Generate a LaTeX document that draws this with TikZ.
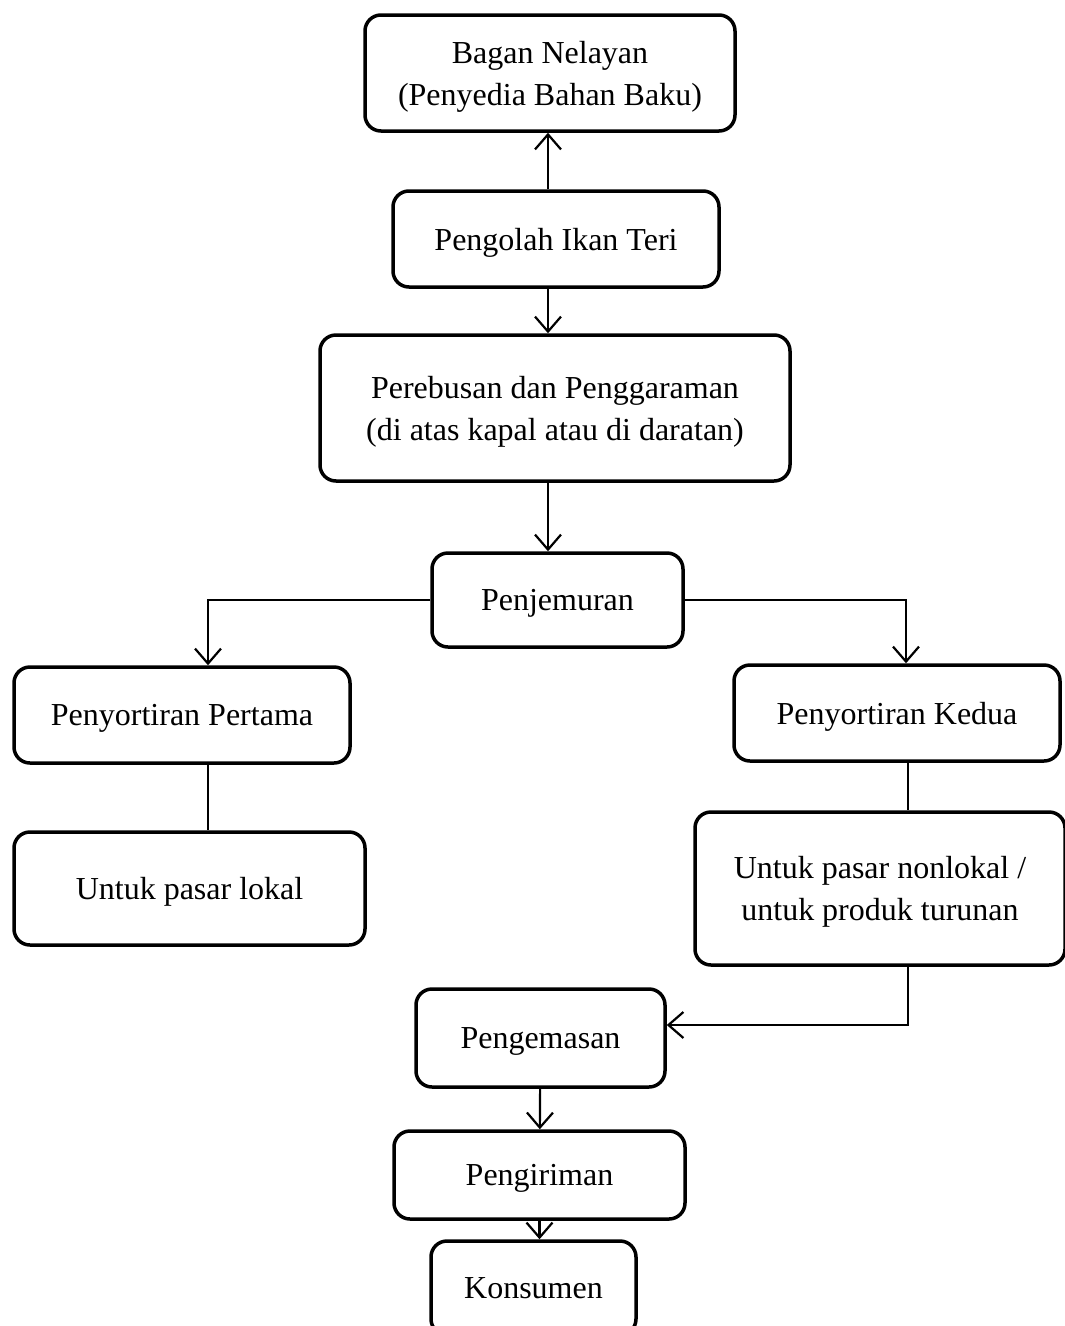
\documentclass[tikz,border=0pt]{standalone}
\usepackage{fontspec}
\setmainfont{Liberation Serif}
\usetikzlibrary{arrows.meta,calc}

\tikzset{
  kotak/.style={draw,line width=3.5pt,rounded corners=16pt,align=center,
    text depth=0pt,font=\fontsize{32}{42}\selectfont},
  panah/.style={line width=2.2pt,-{Straight Barb[length=15pt,width=26pt,line width=2.2pt]}},
  garis/.style={line width=2.2pt}
}

\begin{document}
\begin{tikzpicture}[x=1pt,y=1pt]
          \useasboundingbox (0,0) rectangle (1065,-1326);

          \node[kotak,minimum width=370pt,minimum height=116pt] (bagan) at (550,-73) {Bagan Nelayan\\(Penyedia Bahan Baku)};
          \node[kotak,minimum width=326pt,minimum height=96pt] (olah) at (556,-239) {Pengolah Ikan Teri};
          \node[kotak,minimum width=470pt,minimum height=146pt] (rebus) at (555,-408) {Perebusan dan Penggaraman\\(di atas kapal atau di daratan)};
          \node[kotak,minimum width=251pt,minimum height=94pt] (jemur) at (557.5,-600) {Penjemuran};
          \node[kotak,minimum width=336pt,minimum height=96pt] (sortir1) at (182,-715) {Penyortiran Pertama};
          \node[kotak,minimum width=326pt,minimum height=96pt] (sortir2) at (897,-713) {Penyortiran Kedua};
          \node[kotak,minimum width=351pt,minimum height=113pt] (lokal) at (189.5,-888.5) {Untuk pasar lokal};
          \node[kotak,minimum width=370pt,minimum height=153pt] (nonlokal) at (880,-888.5) {Untuk pasar nonlokal /\\untuk produk turunan};
          \node[kotak,minimum width=249pt,minimum height=98pt] (kemas) at (540.5,-1038) {Pengemasan};
          \node[kotak,minimum width=291pt,minimum height=88pt] (kirim) at (539.5,-1175) {Pengiriman};
          \node[kotak,minimum width=205pt,minimum height=94pt] (konsumen) at (533.5,-1288) {Konsumen};

          % alur utama
          \draw[panah] ([xshift=-8pt]olah.north) -- ([xshift=-8pt]olah.north |- bagan.south);
          \draw[panah] ([xshift=-8pt]olah.south) -- ([xshift=-8pt]olah.south |- rebus.north);
          \draw[panah] ([xshift=-7pt]rebus.south) -- ([xshift=-7pt]rebus.south |- jemur.north);

          % cabang penyortiran
          \draw[panah] (jemur.west) -| ([xshift=26pt]sortir1.north);
          \draw[panah] (jemur.east) -| ([xshift=9pt]sortir2.north);
          \draw[garis] ([xshift=26pt]sortir1.south) -- ([xshift=26pt]sortir1.south |- lokal.north);
          \draw[garis] ([xshift=11pt]sortir2.south) -- ([xshift=11pt]sortir2.south |- nonlokal.north);

          % ke pengemasan
          \draw[panah] ([xshift=28pt]nonlokal.south) |- ([yshift=13pt]kemas.east);
          \draw[panah] (kemas) -- (kirim);
          \draw[panah] (kirim.south) -- (kirim.south |- konsumen.north);
        \end{tikzpicture}
\end{document}
